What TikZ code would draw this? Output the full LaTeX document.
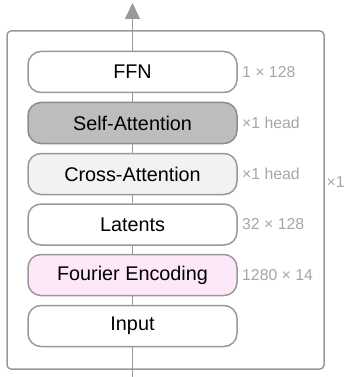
\documentclass[tikz,border=0pt]{standalone}
\usepackage{fontspec}
\setmainfont{Liberation Sans}
\usetikzlibrary{arrows.meta}
\definecolor{edgegray}{HTML}{999999}
\definecolor{labgray}{HTML}{A6A6A6}
\definecolor{sagray}{HTML}{BDBDBD}
\definecolor{calight}{HTML}{F2F2F2}
\definecolor{fepink}{HTML}{FCE8F8}
\tikzset{
  blk/.style={draw=edgegray, line width=1.5pt, rounded corners=13pt, minimum width=209pt, minimum height=41pt, inner sep=0pt, font=\fontsize{19.8}{22}\selectfont, text=black},
  lab/.style={anchor=west, inner sep=0pt, text=labgray, font=\fontsize{15.8}{18}\selectfont},
  conn/.style={draw=edgegray, line width=1.5pt}
}
\begin{document}
\begin{tikzpicture}[x=1pt,y=-1pt]
\useasboundingbox (0,0) rectangle (345,377);
\draw[edgegray, line width=1.5pt, rounded corners=4pt] (7,31) rectangle (324,369);
\node[blk, fill=white] (ffn) at (132.5,72) {FFN};
\node[blk, fill=sagray, draw=gray!90] (sa) at (132.5,123) {Self-Attention};
\node[blk, fill=calight] (ca) at (132.5,174) {Cross-Attention};
\node[blk, fill=white] (lat) at (132.5,224.5) {Latents};
\node[blk, fill=fepink] (fe) at (132.5,275) {Fourier Encoding};
\node[blk, fill=white] (inp) at (132.5,326) {Input};
\coordinate (top) at (132.5,3);
\coordinate (bot) at (132.5,377);
\draw[conn] (inp) -- (fe);
\draw[conn] (fe) -- (lat);
\draw[conn] (lat) -- (ca);
\draw[conn] (ca) -- (sa);
\draw[conn] (sa) -- (ffn);
\draw[conn, -{Triangle[length=16pt, width=15pt]}, color=edgegray] (ffn) -- (top);
\draw[conn] (inp) -- (bot);
\node[lab] (l1) at (242,72) {1 × 128};
\node[lab] (l2) at (242,123) {×1 head};
\node[lab] (l3) at (242,174) {×1 head};
\node[lab] (l4) at (242,224.5) {32 × 128};
\node[lab] (l5) at (242,275) {1280 × 14};
\node[lab] (l6) at (326.5,182) {×1};
\end{tikzpicture}
\end{document}
